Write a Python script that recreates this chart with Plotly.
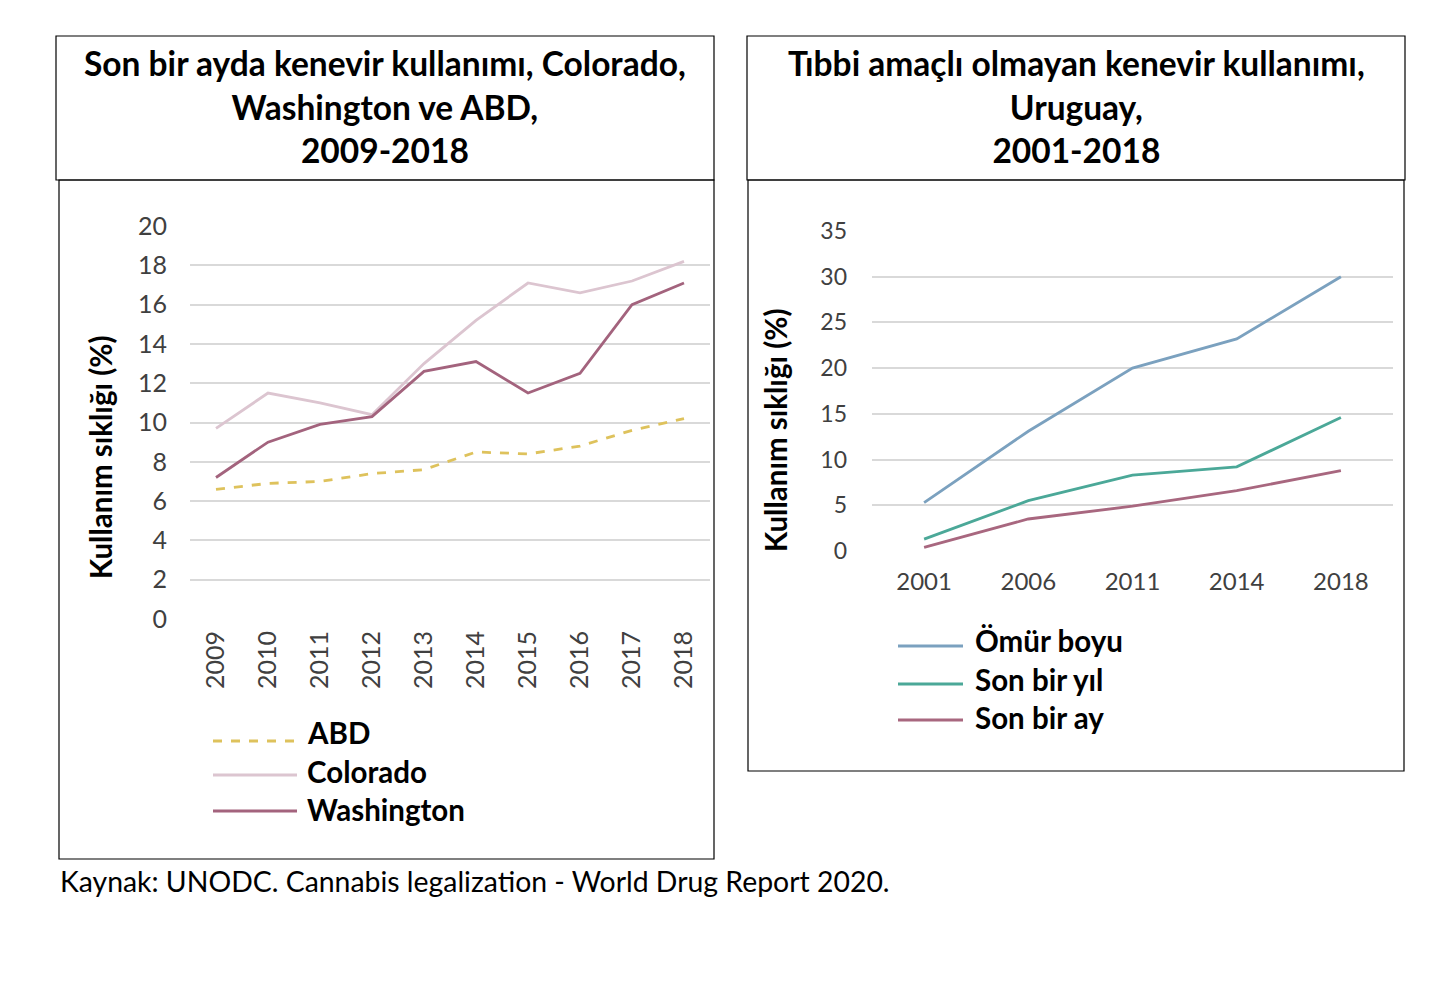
import plotly.graph_objects as go

# ---- data ----
years_us = ['2009', '2010', '2011', '2012', '2013', '2014', '2015', '2016', '2017', '2018']
abd = [6.6, 6.9, 7.0, 7.4, 7.6, 8.5, 8.4, 8.8, 9.6, 10.2]
colorado = [9.7, 11.5, 11.0, 10.4, 13.0, 15.2, 17.1, 16.6, 17.2, 18.2]
washington = [7.2, 9.0, 9.9, 10.3, 12.6, 13.1, 11.5, 12.5, 16.0, 17.1]

years_uy = ['2001', '2006', '2011', '2014', '2018']
omur_boyu = [5.3, 13.1, 20.0, 23.2, 30.0]
son_bir_yil = [1.3, 5.5, 8.3, 9.2, 14.6]
son_bir_ay = [0.4, 3.5, 4.9, 6.6, 8.8]

# page body has an 8px margin, so the figure is a bit smaller than the window
OFF = 8
W, H = 1414, 982
FONT = 'Lato'
TICK = '#404040'
GRID = '#D9D9D9'


def px(x):
    return (x - OFF) / W


def py(y):
    return 1 - (y - OFF) / H


left_series = [
    ('ABD', abd, '#DEC25C', 'dash'),
    ('Colorado', colorado, '#DCC5D0', 'solid'),
    ('Washington', washington, '#A3637D', 'solid'),
]
right_series = [
    ('Ömür boyu', omur_boyu, '#7BA1BF', 'solid'),
    ('Son bir yıl', son_bir_yil, '#4BA898', 'solid'),
    ('Son bir ay', son_bir_ay, '#A8677F', 'solid'),
]

fig = go.Figure()

for name, vals, col, dash in left_series:
    fig.add_trace(go.Scatter(x=years_us, y=vals, mode='lines', name=name,
                             line=dict(color=col, width=2.8, dash=dash),
                             xaxis='x', yaxis='y', showlegend=False))
for name, vals, col, dash in right_series:
    fig.add_trace(go.Scatter(x=years_uy, y=vals, mode='lines', name=name,
                             line=dict(color=col, width=2.8, dash=dash),
                             xaxis='x2', yaxis='y2', showlegend=False))

shapes = []
annotations = []

# frames (title boxes + body boxes)
for x0, y0, x1, y1 in [(56, 36, 714, 180), (59, 180, 714, 859),
                       (747, 36, 1405, 180), (748, 180, 1404, 771)]:
    shapes.append(dict(type='rect', xref='paper', yref='paper',
                       x0=px(x0), x1=px(x1), y0=py(y1), y1=py(y0),
                       line=dict(color='black', width=1.2), fillcolor='rgba(0,0,0,0)'))

# titles
annotations.append(dict(text='<b>Son bir ayda kenevir kullanımı, Colorado,<br>Washington ve ABD,<br>2009-2018</b>',
                        x=px(385), y=py(107), xref='paper', yref='paper',
                        showarrow=False, font=dict(size=33.5, color='black', family=FONT),
                        align='center', xanchor='center', yanchor='middle'))
annotations.append(dict(text='<b>Tıbbi amaçlı olmayan kenevir kullanımı,<br>Uruguay,<br>2001-2018</b>',
                        x=px(1076), y=py(107), xref='paper', yref='paper',
                        showarrow=False, font=dict(size=33.5, color='black', family=FONT),
                        align='center', xanchor='center', yanchor='middle'))

# y-axis titles
for xt, yt in [(100, 457), (775, 430)]:
    annotations.append(dict(text='<b>Kullanım sıklığı (%)</b>', x=px(xt), y=py(yt),
                            xref='paper', yref='paper', showarrow=False, textangle=-90,
                            xanchor='center', yanchor='middle',
                            font=dict(size=29.5, color='black', family=FONT)))


# manual legends
def legend(series, x0, x1, xt, text_ys, line_ys):
    for (name, _, col, dash), yt, yl in zip(series, text_ys, line_ys):
        shapes.append(dict(type='line', xref='paper', yref='paper',
                           x0=px(x0), x1=px(x1), y0=py(yl), y1=py(yl),
                           line=dict(color=col, width=2.8, dash=dash)))
        annotations.append(dict(text='<b>' + name + '</b>', x=px(xt), y=py(yt),
                                xref='paper', yref='paper', showarrow=False,
                                xanchor='left', yanchor='middle',
                                font=dict(size=29.5, color='black', family=FONT)))


legend(left_series, 213, 297, 305, [732, 771, 809], [741, 775, 811])
legend(right_series, 898, 963, 973, [640, 679, 717], [646, 684, 720])

# source
annotations.append(dict(text='Kaynak: UNODC. Cannabis legalization - World Drug Report 2020.',
                        x=px(58), y=py(881), xref='paper', yref='paper', showarrow=False,
                        xanchor='left', yanchor='middle',
                        font=dict(size=28.4, color='black', family=FONT)))

axis_common = dict(showline=False, ticks='', zeroline=False, fixedrange=True,
                   automargin=False)

fig.update_layout(
    width=W, height=H,
    margin=dict(l=0, r=0, t=0, b=0, pad=0, autoexpand=False),
    paper_bgcolor='white', plot_bgcolor='white',
    font=dict(family=FONT, color=TICK),
    xaxis=dict(domain=[px(190), px(710)], anchor='y', type='category',
               range=[-0.5, len(years_us) - 0.5],
               tickangle=-90, showgrid=False, ticklabelstandoff=6,
               tickfont=dict(size=25, color=TICK), **axis_common),
    yaxis=dict(domain=[py(619), py(226)], anchor='x', range=[0, 20], dtick=2,
               showgrid=True, gridcolor=GRID, gridwidth=1.5,
               tickfont=dict(size=25, color=TICK), ticklabelstandoff=22,
               **axis_common),
    xaxis2=dict(domain=[px(872), px(1393)], anchor='y2', type='category',
                range=[-0.5, len(years_uy) - 0.5], ticklabelstandoff=14,
                showgrid=False, tickfont=dict(size=24, color=TICK), **axis_common),
    yaxis2=dict(domain=[py(551), py(231)], anchor='x2', range=[0, 35], dtick=5,
                showgrid=True, gridcolor=GRID, gridwidth=1.5,
                tickfont=dict(size=23, color=TICK), ticklabelstandoff=24,
                **axis_common),
    shapes=shapes,
    annotations=annotations,
)

fig.write_html('out.html')
